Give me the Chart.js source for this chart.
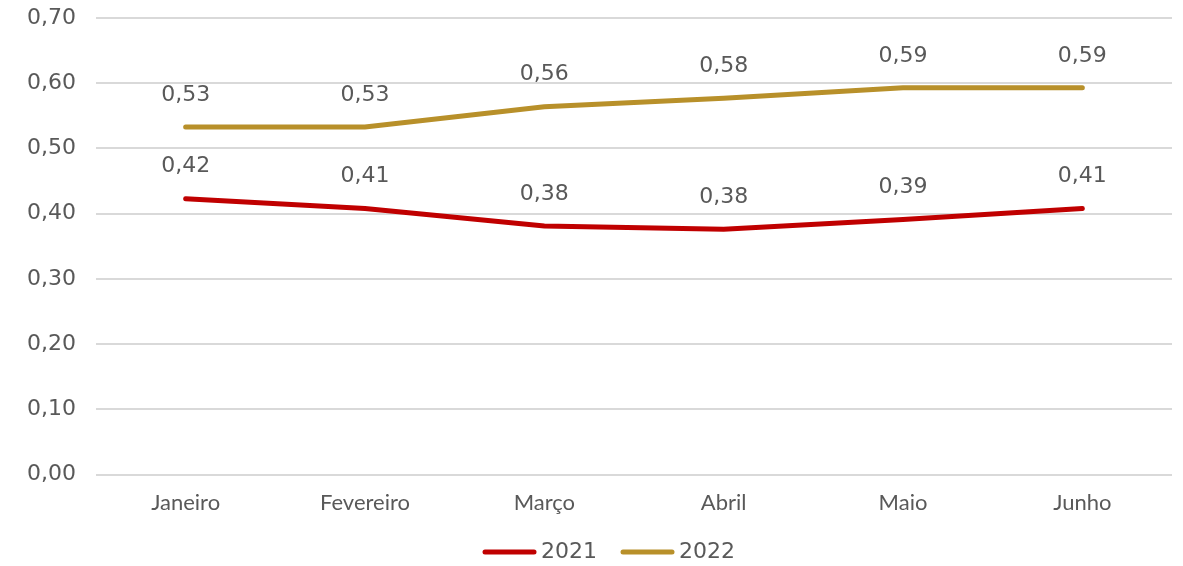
<!DOCTYPE html>
<html>
  <head>
    <meta charset="utf-8">
    <title>2021 x 2022</title>
    <script src="https://cdn.jsdelivr.net/npm/chart.js"></script>
    <style>
      body { margin: 0; background: #fff; }
      #wrap { width: 1183px; height: 566px; }
    </style>
  </head>
  <body>
    <div id="wrap"><canvas id="lineChart" width="1183" height="566"></canvas></div>
    <script>
      const months = ['Janeiro', 'Fevereiro', 'Março', 'Abril', 'Maio', 'Junho'];
      const values2021 = [0.423, 0.408, 0.381, 0.376, 0.391, 0.408];
      const values2022 = [0.533, 0.533, 0.564, 0.577, 0.593, 0.593];
      const yTicks = [0, 0.1, 0.2, 0.3, 0.4, 0.5, 0.6, 0.7];

      const textColor = '#595959';
      const fmt = v => v.toFixed(2).replace('.', ',');

      // labels above each point
      const pointLabels = {
        id: 'pointLabels',
        afterDatasetsDraw(chart) {
          const ctx = chart.ctx;
          ctx.save();
          ctx.font = '22px "DejaVu Sans"';
          ctx.fillStyle = textColor;
          ctx.textAlign = 'center';
          ctx.textBaseline = 'middle';
          chart.data.datasets.forEach((ds, i) => {
            chart.getDatasetMeta(i).data.forEach((pt, j) => {
              ctx.fillText(fmt(ds.data[j]), pt.x, pt.y - 32);
            });
          });
          ctx.restore();
        }
      };

      // legend at the bottom, line sample + year, like excel
      const bottomLegend = {
        id: 'bottomLegend',
        afterDraw(chart) {
          const ctx = chart.ctx;
          const lineW = 55, gap = 4, itemGap = 23;
          ctx.save();
          ctx.font = '22px "DejaVu Sans"';
          ctx.textBaseline = 'middle';
          const items = chart.data.datasets.map(ds => ({ ds, w: lineW + gap + ctx.measureText(ds.label).width }));
          const total = items.reduce((s, it) => s + it.w, 0) + itemGap * (items.length - 1);
          let x = chart.width / 2 + 17 - total / 2;
          const y = chart.height - 14;
          items.forEach(it => {
            ctx.strokeStyle = it.ds.borderColor;
            ctx.lineWidth = 5;
            ctx.lineCap = 'round';
            ctx.beginPath();
            ctx.moveTo(x + 3, y);
            ctx.lineTo(x + lineW - 3, y);
            ctx.stroke();
            ctx.fillStyle = textColor;
            ctx.fillText(it.ds.label, x + lineW + gap, y);
            x += it.w + itemGap;
          });
          ctx.restore();
        }
      };

      const chart = new Chart(document.getElementById('lineChart'), {
        type: 'line',
        data: {
          labels: months,
          datasets: [{
            label: '2021',
            data: values2021,
            borderColor: '#C00000',
            backgroundColor: '#C00000',
            borderWidth: 5,
            borderCapStyle: 'round',
            pointRadius: 0,
            tension: 0
          },
          {
            label: '2022',
            data: values2022,
            borderColor: '#B8902A',
            backgroundColor: '#B8902A',
            borderWidth: 5,
            borderCapStyle: 'round',
            pointRadius: 0,
            tension: 0
          }]
        },
        options: {
          responsive: false,
          animation: false,
          layout: { padding: { left: 7, right: 11, top: 18, bottom: 31 } },
          plugins: {
            tooltip: { enabled: false },
            legend: { display: false }
          },
          scales: {
            x: {
              offset: true,
              grid: { display: false },
              border: { display: false },
              ticks: { color: textColor, font: { family: 'Lato', size: 22 }, padding: 7 },
              afterFit: axis => { axis.height += 12; }
            },
            y: {
              min: 0,
              max: 0.7,
              afterBuildTicks: axis => { axis.ticks = yTicks.map(v => ({ value: v })); },
              afterFit: axis => { axis.paddingTop = 0; axis.paddingBottom = 0; },
              grid: { color: '#D9D9D9', lineWidth: 2, drawTicks: false },
              border: { display: false },
              ticks: {
                color: textColor,
                font: { family: 'DejaVu Sans', size: 22 },
                padding: 20,
                callback: v => fmt(v)
              }
            }
          }
        },
        plugins: [pointLabels, bottomLegend]
      });
    </script>
  </body>
</html>
